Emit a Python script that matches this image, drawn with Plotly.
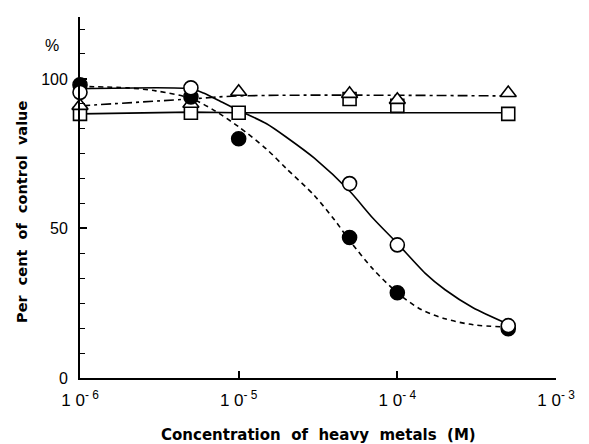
import plotly.graph_objects as go

# Concentrations (M)
conc = [1e-6, 5e-6, 1e-5, 5e-5, 1e-4, 5e-4]

# Measured points (% of control)
open_circle = [95.5, 97.0, None, 65.0, 44.5, 17.5]
filled_circle = [98.0, 94.0, 80.0, 47.0, 28.5, 16.5]
triangle = [91.0, 91.7, 95.7, 95.0, 93.0, 95.3]
square = [88.3, 88.7, 88.7, 93.3, 91.0, 88.3]

# Fitted curves
fit_open_x = [1e-6, 5e-6, 6e-6, 8e-6, 1e-5, 1.5e-5, 2e-5, 3e-5, 5e-5, 7e-5, 1e-4, 1.5e-4, 2e-4, 3e-4, 5e-4]
fit_open_y = [96.7, 96.7, 95.3, 92.0, 89.5, 85.0, 80.5, 73.5, 62.5, 53.5, 45.0, 35.0, 29.5, 23.5, 18.0]

fit_filled_x = [1e-6, 2e-6, 3e-6, 5e-6, 7e-6, 1e-5, 1.5e-5, 2e-5, 3e-5, 4e-5, 5e-5, 7e-5, 1e-4,
                1.4e-4, 2e-4, 3e-4, 5e-4]
fit_filled_y = [97.5, 97.0, 96.0, 93.5, 89.5, 84.0, 76.5, 70.0, 61.0, 53.0, 46.0, 36.5, 28.5,
                23.0, 19.8, 17.8, 17.0]

fit_tri_x = [1e-6, 5e-6, 1e-5, 5e-4]
fit_tri_y = [91.0, 93.3, 94.3, 94.3]

fit_sq_x = [1e-6, 5e-6, 1e-5, 5e-4]
fit_sq_y = [88.3, 88.9, 88.7, 88.7]

x_tickvals = [1e-6, 1e-5, 1e-4, 1e-3]
x_ticktext = ["1 0<sup>- 6</sup>", "1 0<sup>- 5</sup>", "1 0<sup>- 4</sup>", "1 0<sup>- 3</sup>"]
y_tickvals = [0, 50, 100]
y_ticktext = ["0", "50", "100"]

FONT = "Liberation Sans, Arial, sans-serif"
TFONT = "DejaVu Sans, sans-serif"
LW = 1.6

fig = go.Figure()

# fitted lines
fig.add_trace(go.Scatter(x=fit_sq_x, y=fit_sq_y, mode="lines",
                         line=dict(color="black", width=LW), showlegend=False))
fig.add_trace(go.Scatter(x=fit_tri_x, y=fit_tri_y, mode="lines", line_shape="spline",
                         line=dict(color="black", width=LW, dash="10px,4px,3px,4px"), showlegend=False))
fig.add_trace(go.Scatter(x=fit_filled_x, y=fit_filled_y, mode="lines", line_shape="spline",
                         line=dict(color="black", width=LW, dash="5px,4px", smoothing=0.8), showlegend=False))
fig.add_trace(go.Scatter(x=fit_open_x, y=fit_open_y, mode="lines", line_shape="spline",
                         line=dict(color="black", width=LW, smoothing=0.7), showlegend=False))

# markers
fig.add_trace(go.Scatter(x=conc, y=square, mode="markers", cliponaxis=False,
                         marker=dict(symbol="square", size=13, color="white",
                                     line=dict(color="black", width=1.6)), showlegend=False))
fig.add_trace(go.Scatter(x=conc, y=triangle, mode="markers", cliponaxis=False,
                         marker=dict(symbol="triangle-up", size=14, color="white",
                                     line=dict(color="black", width=1.6)), showlegend=False))
fig.add_trace(go.Scatter(x=conc, y=filled_circle, mode="markers", cliponaxis=False,
                         marker=dict(symbol="circle", size=14, color="black",
                                     line=dict(color="black", width=1.6)), showlegend=False))
fig.add_trace(go.Scatter(x=conc, y=open_circle, mode="markers", cliponaxis=False,
                         marker=dict(symbol="circle", size=14, color="white",
                                     line=dict(color="black", width=1.6)), showlegend=False))

fig.update_layout(
    width=589, height=444,
    margin=dict(l=80, r=33, t=17, b=66),
    paper_bgcolor="white", plot_bgcolor="white",
    font=dict(family=FONT, size=15, color="black"),
    xaxis=dict(type="log", range=[-6, -3], tickvals=x_tickvals, ticktext=x_ticktext,
               showgrid=False, zeroline=False, showline=True, linecolor="black", linewidth=1.8,
               ticks="inside", ticklen=7, tickwidth=1.5, tickcolor="black",
               ticklabelstandoff=6,
               tickfont=dict(size=17, family=FONT)),
    yaxis=dict(range=[0, 120.7], tickvals=y_tickvals, ticktext=y_ticktext,
               showgrid=False, zeroline=False, showline=True, linecolor="black", linewidth=1.8,
               ticks="inside", ticklen=7, tickwidth=1.5, tickcolor="black",
               ticklabelstandoff=7,
               minor=dict(dtick=50 / 6, tick0=0, ticks="inside", ticklen=5, tickwidth=1.2,
                          tickcolor="black", showgrid=False),
               tickfont=dict(size=16, family=FONT)),
    annotations=[
        dict(text="%", xref="paper", yref="paper", x=0, y=1, xshift=-28, yshift=-28,
             showarrow=False, font=dict(size=16, family=FONT), xanchor="center", yanchor="middle"),
        dict(text="<b>Per&nbsp; cent&nbsp; of&nbsp; control&nbsp; value</b>", xref="paper", yref="paper",
             x=0, y=0.46, xshift=-58, showarrow=False, textangle=-90, font=dict(size=14.5, family=TFONT),
             xanchor="center", yanchor="middle"),
        dict(text="<b>Concentration&nbsp; of&nbsp; heavy&nbsp; metals&nbsp; (M)</b>", xref="paper", yref="paper",
             x=0.5, y=0, yshift=-57, showarrow=False, font=dict(size=15, family=TFONT),
             xanchor="center", yanchor="middle"),
    ],
)

fig.write_html("out.html")
